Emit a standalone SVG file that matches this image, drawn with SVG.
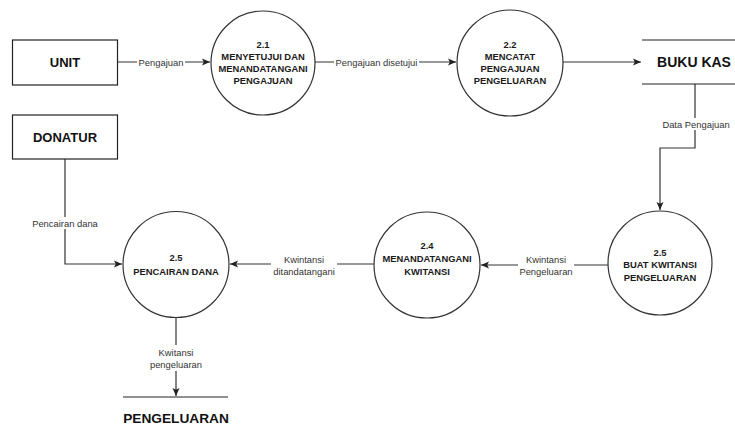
<svg xmlns="http://www.w3.org/2000/svg" width="735" height="436" viewBox="0 0 735 436">
  <style>
    .box { fill: #ffffff; stroke: #222222; stroke-width: 1.2; }
    .proc { fill: #ffffff; stroke: #333333; stroke-width: 1.2; }
    .store { stroke: #222222; stroke-width: 1.2; }
    .edge { fill: none; stroke: #333333; stroke-width: 1.2; }
    .ent { font-family: "Liberation Sans", Arial, sans-serif; font-weight: bold; fill: #111111; text-anchor: middle; dominant-baseline: central; }
    .ptxt { font-family: "Liberation Sans", Arial, sans-serif; font-weight: bold; font-size: 9.4px; fill: #1a1a1a; text-anchor: middle; dominant-baseline: central; }
    .lbl { font-family: "Liberation Sans", Arial, sans-serif; font-size: 9.4px; fill: #333333; text-anchor: middle; dominant-baseline: central; }
    .lblbg { fill: #ffffff; stroke: none; }
  </style>
  <defs>
    <marker id="arrow" viewBox="0 0 8 8" refX="8" refY="4" markerWidth="8" markerHeight="8" markerUnits="userSpaceOnUse" orient="auto">
      <path d="M0,0.5 L8,4 L0,7.5 L1.8,4 Z" fill="#222222"/>
    </marker>
  </defs>
  <rect width="735" height="436" fill="#ffffff"/>

  <!-- connectors -->
  <g id="connectors">
    <path class="edge" d="M118,62 H210" marker-end="url(#arrow)"/>
    <path class="edge" d="M315,62 H456" marker-end="url(#arrow)"/>
    <path class="edge" d="M563,62 H641" marker-end="url(#arrow)"/>
    <path class="edge" d="M695,84 V148 H660 V210" marker-end="url(#arrow)"/>
    <path class="edge" d="M608,265 H481" marker-end="url(#arrow)"/>
    <path class="edge" d="M374,264 H230" marker-end="url(#arrow)"/>
    <path class="edge" d="M65,159 V264 H122" marker-end="url(#arrow)"/>
    <path class="edge" d="M176,317 V396" marker-end="url(#arrow)"/>

    <!-- edge labels -->
    <rect class="lblbg" x="137" y="56" width="48" height="12"/>
    <text class="lbl" x="161" y="62">Pengajuan</text>

    <rect class="lblbg" x="334" y="56" width="85" height="12"/>
    <text class="lbl" x="376.5" y="62">Pengajuan disetujui</text>

    <rect class="lblbg" x="660" y="118" width="72" height="12"/>
    <text class="lbl" x="696" y="124">Data Pengajuan</text>

    <rect class="lblbg" x="518" y="252" width="56" height="26"/>
    <text class="lbl" x="546" y="259">Kwintansi</text>
    <text class="lbl" x="546" y="271.5">Pengeluaran</text>

    <rect class="lblbg" x="271" y="252" width="66" height="26"/>
    <text class="lbl" x="304" y="259">Kwintansi</text>
    <text class="lbl" x="304" y="271.5">ditandatangani</text>

    <rect class="lblbg" x="30" y="217" width="70" height="12"/>
    <text class="lbl" x="65" y="223">Pencairan dana</text>

    <rect class="lblbg" x="150" y="345" width="52" height="26"/>
    <text class="lbl" x="176" y="352">Kwitansi</text>
    <text class="lbl" x="176" y="364">pengeluaran</text>
  </g>

  <!-- external entities -->
  <g id="unit">
    <rect class="box" x="12.5" y="40" width="105" height="45"/>
    <text class="ent" x="65" y="62.5" font-size="13px">UNIT</text>
  </g>
  <g id="donatur">
    <rect class="box" x="12.5" y="115" width="105" height="44"/>
    <text class="ent" x="65" y="137" font-size="13px">DONATUR</text>
  </g>

  <!-- processes -->
  <g id="p21">
    <circle class="proc" cx="263" cy="63" r="52"/>
    <text class="ptxt" x="263" y="44">2.1</text>
    <text class="ptxt" x="263" y="56">MENYETUJUI DAN</text>
    <text class="ptxt" x="263" y="68">MENANDATANGANI</text>
    <text class="ptxt" x="263" y="80">PENGAJUAN</text>
  </g>
  <g id="p22">
    <circle class="proc" cx="510" cy="63" r="53"/>
    <text class="ptxt" x="510" y="44">2.2</text>
    <text class="ptxt" x="510" y="56">MENCATAT</text>
    <text class="ptxt" x="510" y="68">PENGAJUAN</text>
    <text class="ptxt" x="510" y="80">PENGELUARAN</text>
  </g>
  <g id="p25-buat">
    <circle class="proc" cx="660" cy="263" r="52"/>
    <text class="ptxt" x="660" y="252">2.5</text>
    <text class="ptxt" x="660" y="264.5">BUAT KWITANSI</text>
    <text class="ptxt" x="660" y="277">PENGELUARAN</text>
  </g>
  <g id="p24">
    <circle class="proc" cx="427" cy="265" r="53"/>
    <text class="ptxt" x="427" y="245">2.4</text>
    <text class="ptxt" x="427" y="258">MENANDATANGANI</text>
    <text class="ptxt" x="427" y="271">KWITANSI</text>
  </g>
  <g id="p25-pencairan">
    <circle class="proc" cx="176" cy="264.5" r="53"/>
    <text class="ptxt" x="176" y="257.5">2.5</text>
    <text class="ptxt" x="176" y="271.5">PENCAIRAN DANA</text>
  </g>

  <!-- data stores -->
  <g id="buku-kas">
    <line class="store" x1="642" y1="40" x2="735" y2="40"/>
    <line class="store" x1="642" y1="84" x2="735" y2="84"/>
    <text class="ent" x="694" y="62" font-size="14px">BUKU KAS</text>
  </g>
  <g id="pengeluaran">
    <line class="store" x1="123" y1="397" x2="228" y2="397"/>
    <text class="ent" x="176" y="418.5" font-size="13.7px">PENGELUARAN</text>
  </g>
</svg>
